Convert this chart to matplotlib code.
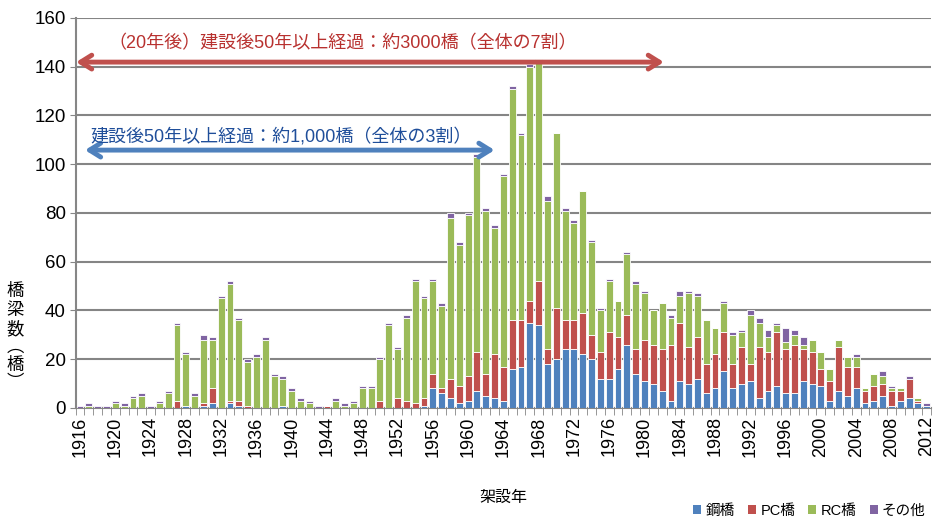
import matplotlib.pyplot as plt
from matplotlib.patches import Patch

plt.rcParams['font.family'] = ['Liberation Sans', 'Noto Sans CJK JP']

# bridge counts per completion year (1916 - 2012)
years = list(range(1916, 2013))
steel = [0, 0, 0, 0, 0, 0, 0, 0, 0, 0,
         0, 0, 1, 0, 1, 2, 0, 2, 1, 0,
         0, 0, 0, 1, 0, 0, 0, 0, 0, 0,
         0, 0, 0, 0, 0, 0, 0, 0, 0, 1,
         8, 6, 4, 2, 3, 7, 5, 4, 3, 16,
         17, 35, 34, 18, 20, 24, 24, 22, 20, 12,
         12, 16, 26, 14, 11, 10, 7, 3, 11, 10,
         12, 6, 8, 15, 8, 10, 11, 4, 7, 9,
         6, 6, 11, 10, 9, 3, 7, 5, 8, 2,
         3, 5, 1, 3, 4, 2, 1]
pc = [0, 0, 0, 0, 0, 0, 0, 0, 0, 0,
      0, 3, 0, 0, 1, 6, 0, 1, 2, 1,
      0, 0, 0, 0, 0, 0, 0, 0, 1, 0,
      0, 0, 0, 0, 3, 0, 4, 3, 2, 3,
      6, 2, 8, 7, 10, 16, 9, 18, 14, 20,
      19, 9, 18, 6, 21, 12, 12, 17, 10, 11,
      19, 13, 12, 10, 17, 16, 17, 23, 24, 15,
      17, 12, 14, 16, 10, 15, 7, 21, 16, 22,
      18, 20, 13, 13, 7, 8, 18, 12, 9, 5,
      6, 5, 6, 4, 8, 1, 0]
rc = [0, 1, 0, 0, 2, 1, 4, 5, 0, 2,
      6, 31, 21, 5, 26, 20, 45, 48, 33, 18,
      21, 28, 13, 11, 7, 3, 2, 0, 0, 3,
      1, 2, 8, 8, 17, 34, 20, 34, 50, 41,
      38, 34, 66, 58, 66, 80, 67, 52, 78, 95,
      76, 96, 91, 61, 72, 45, 40, 50, 38, 17,
      21, 15, 25, 27, 19, 14, 19, 11, 11, 22,
      17, 18, 11, 12, 12, 6, 20, 10, 6, 3,
      3, 4, 2, 5, 7, 5, 3, 4, 4, 1,
      5, 3, 1, 1, 0, 1, 0]
other = [1, 1, 1, 1, 1, 1, 1, 1, 1, 1,
         1, 1, 1, 1, 2, 1, 1, 1, 1, 1,
         1, 1, 1, 1, 1, 1, 1, 1, 0, 1,
         1, 1, 1, 1, 1, 1, 1, 1, 1, 1,
         1, 1, 2, 1, 1, 1, 1, 1, 1, 1,
         1, 1, 0, 2, 0, 1, 1, 0, 1, 1,
         1, 0, 1, 1, 1, 0, 0, 1, 2, 1,
         1, 0, 0, 1, 1, 1, 2, 2, 3, 1,
         6, 2, 3, 0, 0, 0, 0, 0, 1, 0,
         0, 2, 1, 0, 1, 0, 1]

series = [("鋼橋", steel, "#4F81BD"),
          ("PC橋", pc, "#C0504D"),
          ("RC橋", rc, "#9BBB59"),
          ("その他", other, "#8064A2")]

fig = plt.figure(figsize=(9.36, 5.23), dpi=100)
ax = fig.add_axes([0.0808, 0.2199, 0.914, 0.7457])

x = list(range(len(years)))
bottom = [0] * len(years)
handles = []
for name, vals, col in series:
    ax.bar(x, vals, bottom=bottom, width=0.78, color=col,
           edgecolor="white", linewidth=0.6, zorder=3)
    bottom = [b + v for b, v in zip(bottom, vals)]
    handles.append(Patch(facecolor=col, label=name))

ax.set_xlim(-0.5, len(years) - 0.5)
ax.set_ylim(0, 160)
ax.set_yticks(range(0, 161, 20))
ax.tick_params(axis="y", labelsize=13.5, length=4, color="#868686", pad=3)
ax.grid(axis="y", color="#858585", linewidth=1.5, zorder=0)

ax.set_xticks(x[::4])
ax.set_xticklabels([str(y) for y in years[::4]], rotation=90, fontsize=13)
ax.tick_params(axis="x", which="major", length=0, pad=6)
ax.set_xticks([i - 0.5 for i in x] + [len(years) - 0.5], minor=True)
ax.tick_params(axis="x", which="minor", length=5, color="#868686")

for s in ["top", "right"]:
    ax.spines[s].set_visible(False)
for s in ["left", "bottom"]:
    ax.spines[s].set_color("#868686")
    ax.spines[s].set_linewidth(1.5)

ax.set_xlabel("架設年", fontsize=11.5, labelpad=24)
fig.text(0.016, 0.356, "橋\n梁\n数\n︵\n橋\n︶", fontsize=12.5,
         ha="center", va="center", linespacing=1.2)

# arrows and notes
red = "#C0504D"
blue = "#4F81BD"
ax.annotate("", xy=(66.2, 141.9), xytext=(-0.45, 141.9),
            arrowprops=dict(arrowstyle="<->,head_length=0.8,head_width=0.5",
                            color=red, lw=3.5, shrinkA=0, shrinkB=0),
            annotation_clip=False, zorder=5)
ax.text(29.8, 149.5, "（20年後）建設後50年以上経過：約3000橋（全体の7割）",
        color="#B8312F", fontsize=13, ha="center", va="center", zorder=5)
ax.annotate("", xy=(47.0, 105.8), xytext=(0.56, 105.8),
            arrowprops=dict(arrowstyle="<->,head_length=0.8,head_width=0.5",
                            color=blue, lw=3.5, shrinkA=0, shrinkB=0),
            annotation_clip=False, zorder=5)
ax.text(22.8, 111.5, "建設後50年以上経過：約1,000橋（全体の3割）",
        color="#1F4E9A", fontsize=13, ha="center", va="center", zorder=5)

fig.legend(handles=handles, ncol=4, loc="lower right",
           bbox_to_anchor=(1.0, -0.01), frameon=False, fontsize=10.5,
           handlelength=0.55, handleheight=0.55, handletextpad=0.3,
           columnspacing=0.9, borderaxespad=0.3)

fig.savefig("out.png", dpi=100)
